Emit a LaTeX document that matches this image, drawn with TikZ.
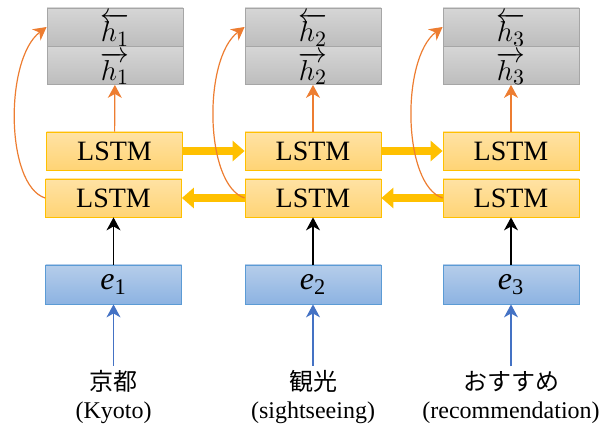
\documentclass[tikz,border=0pt]{standalone}
\usepackage{fontspec}
\setmainfont{Liberation Serif}
\newfontfamily\jpfont{Noto Sans CJK JP}
\usetikzlibrary{positioning,arrows.meta}

\definecolor{hedge}{HTML}{A6A6A6}
\definecolor{htop}{HTML}{D6D6D6}
\definecolor{hbot}{HTML}{BDBDBD}
\definecolor{lstmedge}{HTML}{FFC000}
\definecolor{lstmtop}{HTML}{FFE2A4}
\definecolor{lstmbot}{HTML}{FFD475}
\definecolor{embedge}{HTML}{5B9BD5}
\definecolor{embtop}{HTML}{B5CDEA}
\definecolor{embbot}{HTML}{8DB3E2}
\definecolor{orangearr}{HTML}{ED7D31}
\definecolor{bluearr}{HTML}{4472C4}

\tikzset{
  hbox/.style={draw=hedge, top color=htop, bottom color=hbot, minimum width=68pt, minimum height=19pt, inner sep=0pt, text height=17pt, text depth=2pt, font=\fontsize{15}{16}\selectfont},
  lstmbox/.style={draw=lstmedge, top color=lstmtop, bottom color=lstmbot, minimum width=68pt, minimum height=19pt, inner sep=0pt, font=\fontsize{14}{16}\selectfont},
  embbox/.style={draw=embedge, top color=embtop, bottom color=embbot, minimum width=68pt, minimum height=19.5pt, inner sep=0pt, font=\fontsize{16}{18}\selectfont},
  thinarr/.style={-{Stealth[length=6.5pt,width=7pt,inset=2pt]}, line width=0.6pt},
  fatarr/.style={-{Triangle[length=6pt,width=10pt]}, line width=4pt, draw=lstmedge},
  word/.style={align=center, inner sep=2pt, font=\fontsize{12}{14}\selectfont}
}

\begin{document}
\begin{tikzpicture}[x=0.5pt, y=-0.5pt]
    \useasboundingbox (0,0) rectangle (614,426);

    % =========================================================
    % Column 1: Kyoto
    % =========================================================
    \node[hbox] (hb1) at (115, 27) {$\overleftarrow{h_1}$};
    \node[hbox] (hf1) at (115, 65.5) {$\overrightarrow{h_1}$};
    \node[lstmbox] (lf1) at (114.5, 151) {LSTM};
    \node[lstmbox] (lb1) at (113.5, 198) {LSTM};
    \node[embbox] (e1) at (113.5, 284.5) {\textit{e}\textsubscript{1}};
    \node[word] (w1) at (113.5, 397) {{\jpfont 京都}\\(Kyoto)};

    % =========================================================
    % Column 2: sightseeing
    % =========================================================
    \node[hbox] (hb2) at (313, 27) {$\overleftarrow{h_2}$};
    \node[hbox] (hf2) at (313, 65.5) {$\overrightarrow{h_2}$};
    \node[lstmbox] (lf2) at (313, 151) {LSTM};
    \node[lstmbox] (lb2) at (313, 198) {LSTM};
    \node[embbox] (e2) at (313, 284.5) {\textit{e}\textsubscript{2}};
    \node[word] (w2) at (313, 397) {{\jpfont 観光}\\(sightseeing)};

    % =========================================================
    % Column 3: recommendation
    % =========================================================
    \node[hbox] (hb3) at (511, 27) {$\overleftarrow{h_3}$};
    \node[hbox] (hf3) at (511, 65.5) {$\overrightarrow{h_3}$};
    \node[lstmbox] (lf3) at (511, 151) {LSTM};
    \node[lstmbox] (lb3) at (511, 198) {LSTM};
    \node[embbox] (e3) at (511, 284.5) {\textit{e}\textsubscript{3}};
    \node[word] (w3) at (511, 397) {{\jpfont おすすめ}\\(recommendation)};

    % Recurrent connections
    \draw[fatarr] (lf1) -- (lf2);
    \draw[fatarr] (lf2) -- (lf3);
    \draw[fatarr] (lb3) -- (lb2);
    \draw[fatarr] (lb2) -- (lb1);

    % Inputs and outputs
    \draw[thinarr, bluearr] (w1) -- (e1);
    \draw[thinarr, bluearr] (w2) -- (e2);
    \draw[thinarr, bluearr] (w3) -- (e3);
    \draw[thinarr, black] (e1) -- (lb1);
    \draw[thinarr, black] (e2) -- (lb2);
    \draw[thinarr, black] (e3) -- (lb3);
    \draw[thinarr, orangearr] (lf1) -- (hf1);
    \draw[thinarr, orangearr] (lf2) -- (hf2);
    \draw[thinarr, orangearr] (lf3) -- (hf3);

    % Backward states go round to the top half
    \draw[thinarr, orangearr] (lb1.west) .. controls +(-40,-13) and +(-42,32) .. (hb1.west);
    \draw[thinarr, orangearr] (lb2.west) .. controls +(-40,-13) and +(-42,32) .. (hb2.west);
    \draw[thinarr, orangearr] (lb3.west) .. controls +(-40,-13) and +(-42,32) .. (hb3.west);
\end{tikzpicture}
\end{document}
